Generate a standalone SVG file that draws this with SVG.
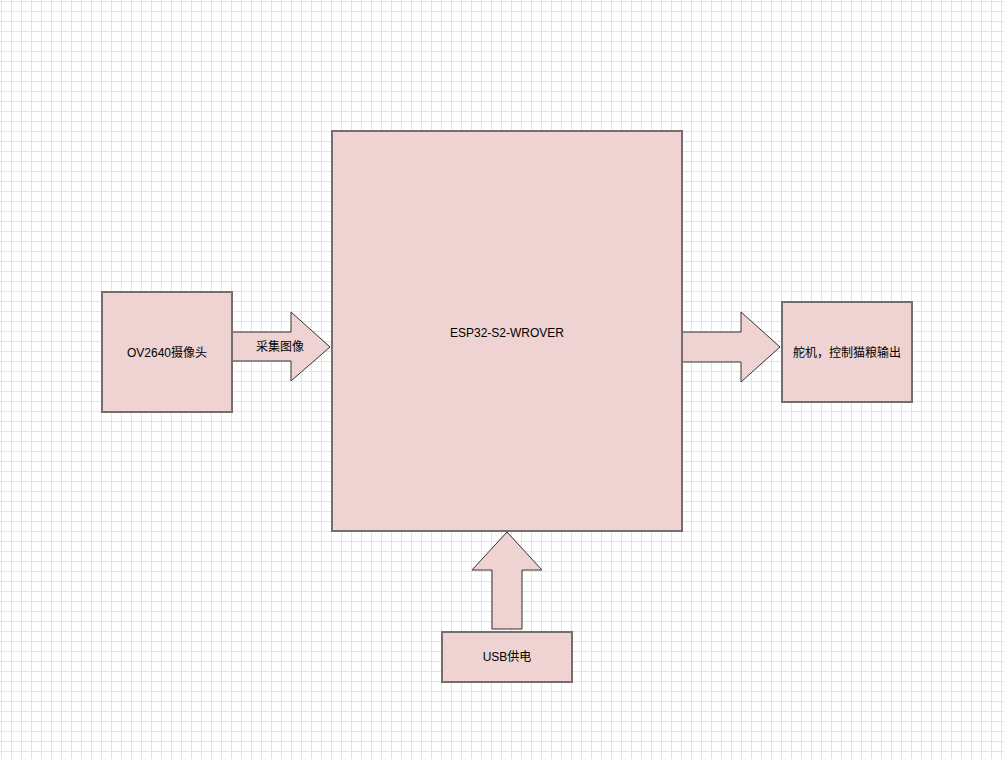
<svg xmlns="http://www.w3.org/2000/svg" width="1004" height="759" viewBox="0 0 1004 759">
<defs>
<pattern id="grid" x="1" y="1" width="10" height="10" patternUnits="userSpaceOnUse">
<path d="M0.5 0 V10 M0 0.5 H10" fill="none" stroke="#e3e3e3" stroke-width="1"/>
</pattern>
<style>
.box{fill:#eed3d2;stroke:#766d6d;stroke-width:2}
.arr{fill:#eed3d2;stroke:#333;stroke-width:1;stroke-linejoin:miter}
.t{font-family:"Liberation Sans","Noto Sans CJK SC",sans-serif;font-size:12px;fill:#000;text-anchor:middle;dominant-baseline:central}
</style>
</defs>
<rect width="1004" height="759" fill="#fff"/>
<rect width="1004" height="759" fill="url(#grid)"/>
<g id="connectors">
<path class="arr" d="M232 332 H291 V312 L330 347 L291 381 V361 H232 Z"/>
<text class="t" x="280" y="347">采集图像</text>
<path class="arr" d="M682 332 H741 V312 L780 347 L741 382 V362 H682 Z"/>
<path class="arr" d="M507 532 L542 570 H522 V629 H492 V570 H472 Z"/>
</g>
<g id="esp32">
<rect class="box" x="332" y="131" width="350" height="400"/>
<text class="t" x="507" y="333">ESP32-S2-WROVER</text>
</g>
<g id="camera">
<rect class="box" x="102" y="292" width="130" height="120"/>
<text class="t" x="167" y="353">OV2640摄像头</text>
</g>
<g id="servo">
<rect class="box" x="782" y="302" width="130" height="100"/>
<text class="t" x="847" y="353">舵机，控制猫粮输出</text>
</g>
<g id="usb">
<rect class="box" x="442" y="632" width="130" height="50"/>
<text class="t" x="507" y="657">USB供电</text>
</g>
</svg>
